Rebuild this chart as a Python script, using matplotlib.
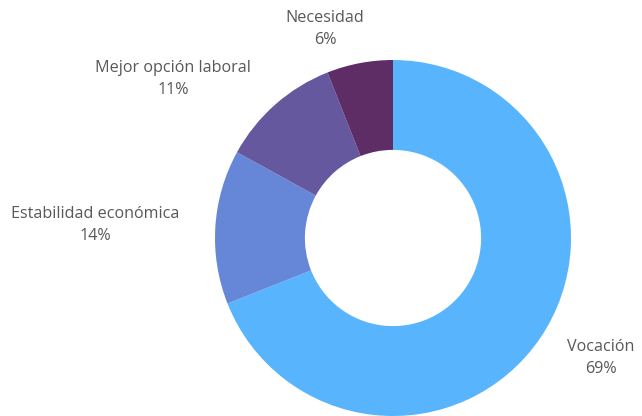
import matplotlib
matplotlib.use("Agg")
import matplotlib.pyplot as plt

categories = ["Vocación", "Estabilidad económica", "Mejor opción laboral", "Necesidad"]
values = [69, 14, 11, 6]
pct_labels = ["69%", "14%", "11%", "6%"]
colors = ["#58b4fd", "#6687d8", "#66589e", "#5e2d66"]

plt.rcParams['font.family'] = ['Open Sans', 'DejaVu Sans']

fig = plt.figure(figsize=(6.42, 4.16), dpi=100)
ax = fig.add_axes([0, 0, 1, 1])
ax.pie(values, colors=colors, startangle=90, counterclock=False,
       radius=1.0, wedgeprops=dict(width=0.505, linewidth=0))
ax.set_aspect('auto')
R = 178.0
cx, cy = 393.0, 238.0
ax.set_xlim(-cx / R, (642 - cx) / R)
ax.set_ylim(-(416 - cy) / R, cy / R)
ax.axis('off')

# label centres in pixel coordinates (layout only)
label_px = [(601, 358), (95, 225), (173, 79), (325, 29)]
for cat, pct, (px, py) in zip(categories, pct_labels, label_px):
    x = (px - cx) / R
    y = (cy - py) / R
    ax.text(x, y, f"{cat}\n{pct}", ha='center', va='center',
            fontsize=11.6, color='#5a5856', linespacing=1.5)

fig.savefig("out.png", dpi=100)
